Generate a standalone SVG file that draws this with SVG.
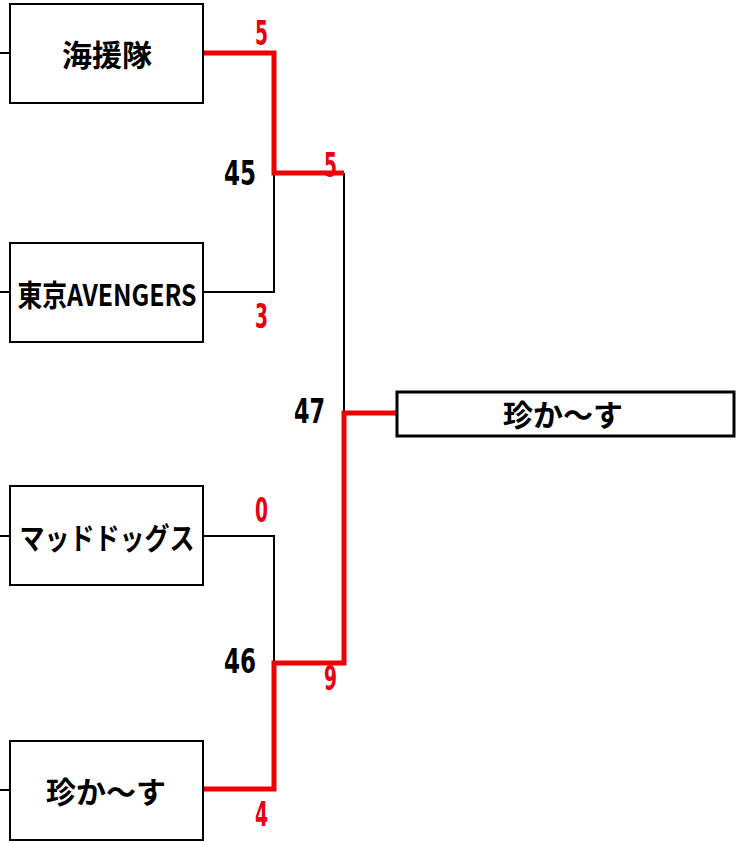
<svg xmlns="http://www.w3.org/2000/svg" width="744" height="841" viewBox="0 0 744 841">
<style>
.box{fill:#fff;stroke:#000;stroke-width:2}
.fin{fill:#fff;stroke:#000;stroke-width:3}
.lbl{font-family:"Noto Sans CJK JP","Liberation Sans",sans-serif;font-weight:bold;font-size:30px;fill:#000;text-anchor:middle;dominant-baseline:central}
.num{font-family:"DejaVu Sans Condensed","Liberation Sans",sans-serif;font-weight:bold;font-size:34px}
.r{fill:#e60012}
.k{fill:#000}
.bl{fill:none;stroke:#000;stroke-width:2}
.rl{fill:none;stroke:#f00000;stroke-width:5}
</style>
<g id="scores">
<text class="num r" x="255" y="45" textLength="13" lengthAdjust="spacingAndGlyphs">5</text>
<text class="num r" x="324" y="177" textLength="13" lengthAdjust="spacingAndGlyphs">5</text>
<text class="num k" x="224" y="185" textLength="32" lengthAdjust="spacingAndGlyphs">45</text>
<text class="num r" x="255" y="328" textLength="13" lengthAdjust="spacingAndGlyphs">3</text>
<text class="num k" x="294" y="423" textLength="31" lengthAdjust="spacingAndGlyphs">47</text>
<text class="num r" x="255" y="522" textLength="13" lengthAdjust="spacingAndGlyphs">0</text>
<text class="num k" x="224" y="673" textLength="32" lengthAdjust="spacingAndGlyphs">46</text>
<text class="num r" x="324" y="690" textLength="13" lengthAdjust="spacingAndGlyphs">9</text>
<text class="num r" x="255" y="826" textLength="13" lengthAdjust="spacingAndGlyphs">4</text>
</g>
<g id="connectors">
<path class="bl" d="M0 53H10M0 292H10M0 536H10M0 790H10"/>
<path class="bl" d="M203 292H274V173M344 173V413M203 536H274V663"/>
<path class="rl" d="M203 53H274V173H344"/>
<path class="rl" d="M203 789H274V663H344V413H397"/>
</g>
<g id="n1"><rect class="box" x="10" y="4" width="193" height="99"/><text class="lbl" x="107" y="53">海援隊</text></g>
<g id="n2"><rect class="box" x="10" y="243" width="193" height="99"/><text class="lbl" x="107" y="293" textLength="179" lengthAdjust="spacingAndGlyphs">東京AVENGERS</text></g>
<g id="n3"><rect class="box" x="10" y="486" width="193" height="99"/><text class="lbl" x="107" y="536" textLength="175" lengthAdjust="spacingAndGlyphs">マッドドッグス</text></g>
<g id="n4"><rect class="box" x="10" y="741" width="193" height="99"/><text class="lbl" x="106" y="790">珍か〜す</text></g>
<g id="winner"><rect class="fin" x="397" y="392" width="337" height="44"/><text class="lbl" x="563" y="413">珍か〜す</text></g>
</svg>
